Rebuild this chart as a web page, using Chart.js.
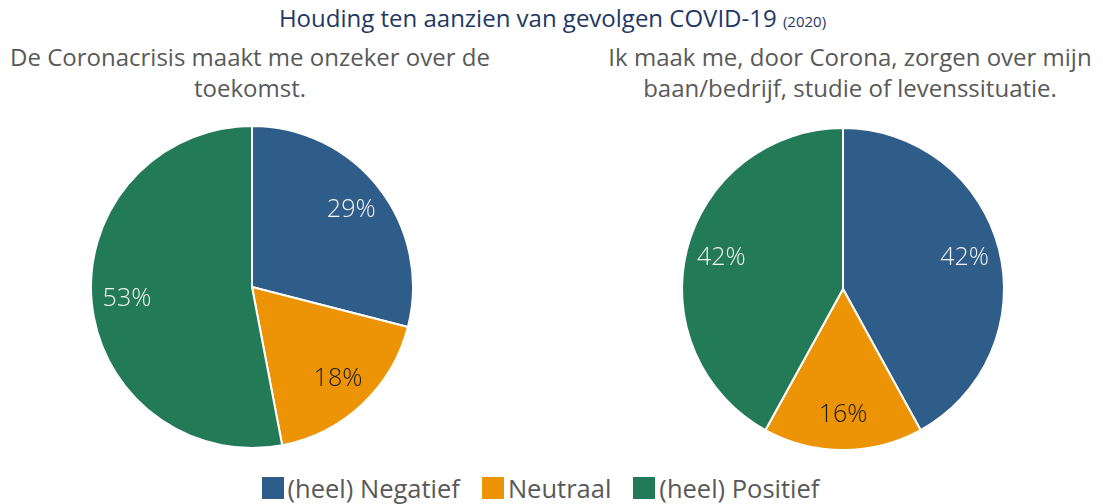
<!DOCTYPE html>
<html><head><meta charset="utf-8">
<script src="https://cdn.jsdelivr.net/npm/chart.js@4/dist/chart.umd.min.js"></script>
<style>
html,body{margin:0;padding:0;}
body{width:1103px;height:504px;background:#fff;position:relative;overflow:hidden;font-family:"Open Sans",sans-serif;}
#title{position:absolute;top:2px;left:1px;width:1103px;text-align:center;color:#1F3864;font-size:24px;line-height:32px;white-space:nowrap;}
#title span{font-size:15px;}
.sub{position:absolute;top:41px;width:540px;text-align:center;color:#595959;font-size:24px;line-height:31px;white-space:nowrap;}
canvas{position:absolute;}
#legend{position:absolute;top:472px;left:-11px;width:1103px;display:flex;justify-content:center;color:#595959;font-size:25.5px;line-height:32px;}
.item{display:flex;align-items:center;margin:0 11px;}
.box{width:22px;height:22px;margin-right:4px;}
</style></head>
<body>
<div id="title"></div>
<div class="sub" id="sub1" style="left:-20px"></div>
<div class="sub" id="sub2" style="left:580px"></div>
<canvas id="c1" width="330" height="324" style="left:87px;top:125px"></canvas>
<canvas id="c2" width="330" height="324" style="left:678px;top:127px"></canvas>
<div id="legend"></div>
<script>
const titleText = 'Houding ten aanzien van gevolgen COVID-19';
const titleYear = '(2020)';
const categories = ['(heel) Negatief', 'Neutraal', '(heel) Positief'];
const pie1Title = ['De Coronacrisis maakt me onzeker over de', 'toekomst.'];
const pie1Values = [29, 18, 53];
const pie2Title = ['Ik maak me, door Corona, zorgen over mijn', 'baan/bedrijf, studie of levenssituatie.'];
const pie2Values = [42, 16, 42];
const sliceColors = ['#2F5D8A', '#EC9406', '#237A57'];
const labelColors = ['#F2F2F2', '#1A1A1A', '#F2F2F2'];

document.getElementById('title').innerHTML = titleText + ' <span>' + titleYear + '</span>';
document.getElementById('sub1').innerHTML = pie1Title.join('<br>');
document.getElementById('sub2').innerHTML = pie2Title.join('<br>');
const leg = document.getElementById('legend');
categories.forEach((c, i) => {
  const it = document.createElement('div'); it.className = 'item';
  const b = document.createElement('div'); b.className = 'box'; b.style.background = sliceColors[i];
  const t = document.createElement('span'); t.textContent = c;
  it.appendChild(b); it.appendChild(t); leg.appendChild(it);
});

const pctLabels = {
  id: 'pctLabels',
  afterDatasetsDraw(chart) {
    const ctx = chart.ctx;
    const ds = chart.data.datasets[0];
    const meta = chart.getDatasetMeta(0);
    ctx.save();
    ctx.font = '300 25px "Open Sans", sans-serif';
    ctx.textAlign = 'center';
    ctx.textBaseline = 'middle';
    meta.data.forEach((arc, i) => {
      const p = arc.getProps(['x', 'y', 'startAngle', 'endAngle', 'outerRadius'], true);
      const mid = (p.startAngle + p.endAngle) / 2;
      const r = p.outerRadius * 0.78;
      ctx.fillStyle = labelColors[i];
      ctx.fillText(ds.data[i] + '%', p.x + Math.cos(mid) * r, p.y + Math.sin(mid) * r);
    });
    ctx.restore();
  }
};

function makePie(id, values) {
  new Chart(document.getElementById(id), {
    type: 'pie',
    data: { labels: categories, datasets: [{ data: values, backgroundColor: sliceColors, borderColor: '#ffffff', borderWidth: 2 }] },
    options: {
      responsive: false, animation: false,
      layout: { padding: 0 },
      plugins: { legend: { display: false }, title: { display: false }, tooltip: { enabled: false } }
    },
    plugins: [pctLabels]
  });
}
makePie('c1', pie1Values);
makePie('c2', pie2Values);
</script>
</body></html>
